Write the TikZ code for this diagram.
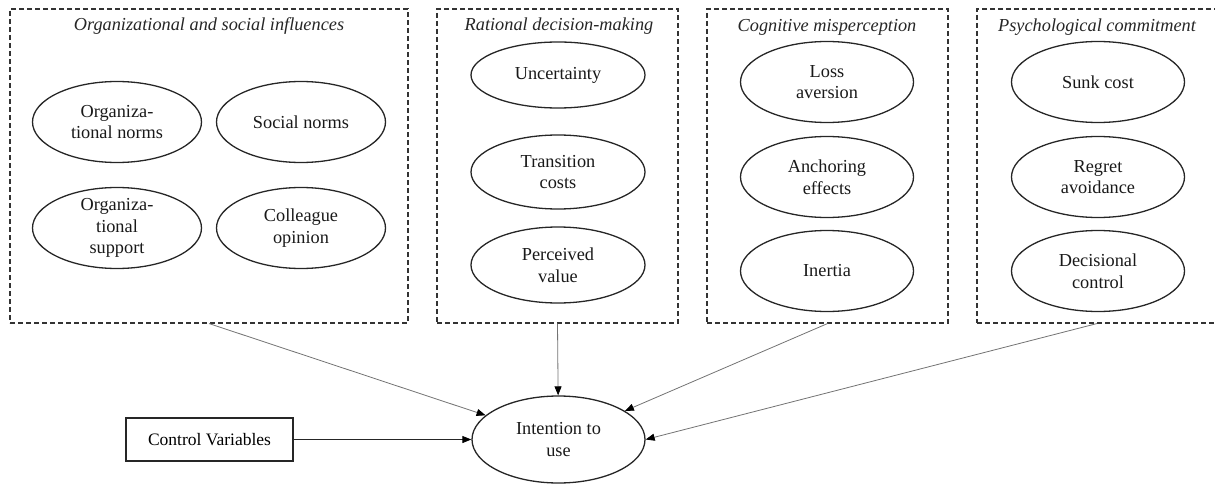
\documentclass[tikz,border=0pt]{standalone}
\usepackage{fontspec}
\setmainfont{Liberation Serif}
\newfontfamily\labelfont{Liberation Serif}
\usetikzlibrary{shapes.geometric,arrows.meta}
\begin{document}
\begin{tikzpicture}[x=1pt,y=-1pt,
  font=\labelfont\fontsize{18.3}{21.5}\selectfont,
  groupbox/.style={draw=black!80, line width=1.1pt, dash pattern=on 5pt off 3pt,
    minimum height=314pt, inner sep=0pt},
  grouptitle/.style={font=\labelfont\fontsize{18.3}{21.5}\selectfont\itshape, inner sep=0pt, text=black!85},
  factor/.style={ellipse, draw=black!85, line width=1.3pt, align=center, inner sep=0pt,
    minimum width=172pt, minimum height=81pt, text=black!90},
  link/.style={draw=black!55, line width=0.8pt,
    -{Triangle[length=9pt,width=7pt,color=black]}}
]
\useasboundingbox (0,0) rectangle (1215,484);

% construct groups
\node[groupbox, minimum width=398pt] (g1) at (209,166) {};
\node[groupbox, minimum width=241pt] (g2) at (557.5,166) {};
\node[groupbox, minimum width=241pt] (g3) at (827.5,166) {};
\node[groupbox, minimum width=240pt] (g4) at (1097,166) {};

\node[grouptitle] (t1) at (209,26) {Organizational and social influences};
\node[grouptitle] (t2) at (559,26) {Rational decision-making};
\node[grouptitle] (t3) at (827,27) {Cognitive misperception};
\node[grouptitle] (t4) at (1097,27) {Psychological commitment};

% organizational and social influences
\node[factor, minimum width=169pt] (on) at (117,122) {Organiza-\\tional norms};
\node[factor, minimum width=169pt] (sn) at (301,122) {Social norms};
\node[factor, minimum width=169pt, inner ysep=-3pt] (os) at (117,228) {Organiza-\\tional\\support};
\node[factor, minimum width=169pt] (co) at (301,228) {Colleague\\opinion};

% rational decision-making
\node[factor, minimum width=174pt, minimum height=66pt] (un) at (558,75) {Uncertainty};
\node[factor, minimum width=174pt, minimum height=74pt] (tc) at (558,172) {Transition\\costs};
\node[factor, minimum width=174pt, minimum height=76pt] (pv) at (558,265) {Perceived\\value};

% cognitive misperception
\node[factor, minimum width=173pt] (la) at (827,82) {Loss\\aversion};
\node[factor, minimum width=173pt] (ae) at (827,177) {Anchoring\\effects};
\node[factor, minimum width=173pt] (in) at (827,271) {Inertia};

% psychological commitment
\node[factor, minimum width=173pt] (sc) at (1098,82) {Sunk cost};
\node[factor, minimum width=173pt] (ra) at (1098,177) {Regret\\avoidance};
\node[factor, minimum width=173pt] (dc) at (1098,271) {Decisional\\control};

% outcome and controls
\node[factor, minimum width=173pt, minimum height=87pt] (int) at (558.5,439.5) {Intention to\\use};
\node[draw=black!85, line width=1.3pt, minimum width=167pt, minimum height=43pt, inner sep=0pt,
  font=\labelfont\fontsize{17.5}{21}\selectfont] (ctrl) at (209.5,439.5) {Control Variables};

% paths
\draw[link] (g1.south) -- (int);
\draw[link] (g2.south) -- (int);
\draw[link] (g3.south) -- (int);
\draw[link] (g4.south) -- (int.east);
\draw[link, draw=black!85] (ctrl) -- (int);
\end{tikzpicture}
\end{document}
